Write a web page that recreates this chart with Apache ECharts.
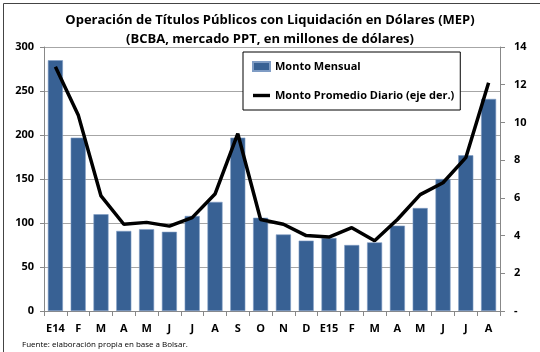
<!DOCTYPE html>
<html>
<head>
<meta charset="utf-8">
<script src="https://cdn.jsdelivr.net/npm/echarts@6/dist/echarts.min.js"></script>
<style>
  html, body { margin: 0; padding: 0; background: #fff; }
  #chart { width: 540px; height: 352px; }
</style>
</head>
<body>
<div id="chart"></div>
<script>
var meses = ['E14', 'F', 'M', 'A', 'M', 'J', 'J', 'A', 'S', 'O', 'N', 'D',
             'E15', 'F', 'M', 'A', 'M', 'J', 'J', 'A'];
// millones de dólares
var montoMensual = [285, 197, 110, 91, 93, 90, 108, 124, 197, 106, 87, 80,
                    83, 75, 78, 97, 117, 150, 177, 241];
// eje derecho
var promedioDiario = [12.95, 10.4, 6.1, 4.6, 4.7, 4.5, 4.95, 6.2, 9.4, 4.85, 4.6, 4.0,
                      3.92, 4.42, 3.73, 4.85, 6.17, 6.8, 8.13, 12.1];

var font = 'Open Sans';

option = {
    animation: false,
    backgroundColor: '#fff',
    title: [{
        text: 'Operación de Títulos Públicos con Liquidación en Dólares (MEP)\n(BCBA, mercado PPT, en millones de dólares)',
        left: 'center',
        top: 6,
        textStyle: {
            fontFamily: font,
            fontSize: 13,
            fontWeight: 'bold',
            color: '#000',
            lineHeight: 19
        }
    }, {
        text: 'Fuente: elaboración propia en base a Bolsar.',
        left: 17,
        top: 336,
        textStyle: {
            fontFamily: font,
            fontSize: 8,
            fontWeight: 'normal',
            color: '#000'
        }
    }],
    legend: {
        orient: 'vertical',
        left: 243,
        top: 52,
        padding: [9, 6, 9, 9],
        itemGap: 18,
        itemWidth: 17,
        itemHeight: 9,
        backgroundColor: '#fff',
        borderColor: '#000',
        borderWidth: 1,
        textStyle: {
            fontFamily: font,
            fontSize: 11,
            fontWeight: 'bold',
            color: '#000'
        },
        data: [
            { name: 'Monto Mensual', icon: 'rect' },
            { name: 'Monto Promedio Diario (eje der.)', icon: 'path://M0,0 L20,0 L20,4 L0,4 Z' }
        ]
    },
    grid: {
        left: 44,
        right: 40,
        top: 47,
        bottom: 41
    },
    xAxis: [{
        type: 'category',
        data: meses,
        axisLine: { lineStyle: { color: '#888' } },
        axisTick: { show: true, length: 5, inside: false, lineStyle: { color: '#888' } },
        axisLabel: {
            interval: 0,
            margin: 12,
            fontFamily: font,
            fontSize: 11,
            fontWeight: 'bold',
            color: '#000'
        }
    }],
    yAxis: [{
        type: 'value',
        min: 0,
        max: 300,
        interval: 50,
        axisLine: { show: true, lineStyle: { color: '#888' } },
        axisTick: { show: true, length: 4, lineStyle: { color: '#888' } },
        splitLine: { lineStyle: { color: '#a6a6a6' } },
        axisLabel: {
            margin: 10,
            fontFamily: font,
            fontSize: 11,
            fontWeight: 'bold',
            color: '#000'
        }
    }, {
        type: 'value',
        min: 0,
        max: 14,
        interval: 2,
        position: 'right',
        axisLine: { show: true, lineStyle: { color: '#888' } },
        axisTick: { show: true, length: 5, lineStyle: { color: '#888' } },
        splitLine: { show: false },
        axisLabel: {
            margin: 14,
            fontFamily: font,
            fontSize: 11,
            fontWeight: 'bold',
            color: '#000',
            formatter: function (v) { return v === 0 ? '-' : v; }
        }
    }],
    series: [{
        name: 'Monto Mensual',
        type: 'bar',
        data: montoMensual,
        barCategoryGap: '34%',
        itemStyle: {
            color: '#386194',
            borderColor: '#7f9cc4',
            borderWidth: 0.6
        }
    }, {
        name: 'Monto Promedio Diario (eje der.)',
        type: 'line',
        yAxisIndex: 1,
        data: promedioDiario,
        symbol: 'none',
        color: '#000',
        lineStyle: {
            color: '#000',
            width: 3.5
        }
    }],
    graphic: [{
        type: 'rect',
        left: 1,
        top: 1,
        shape: { width: 537, height: 349 },
        style: { fill: 'none', stroke: '#444', lineWidth: 1 },
        silent: true
    }]
};

echarts.init(document.getElementById('chart')).setOption(option);
</script>
</body>
</html>
